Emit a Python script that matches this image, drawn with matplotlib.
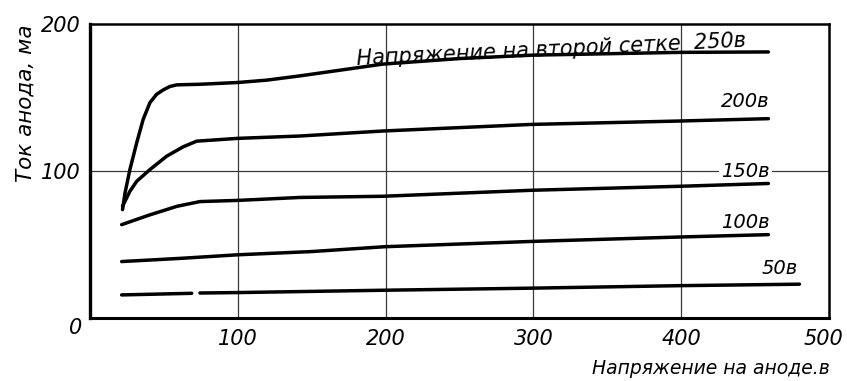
import matplotlib
matplotlib.use("Agg")
import matplotlib.pyplot as plt
from matplotlib.transforms import ScaledTranslation

plt.rcParams['font.family'] = ['DejaVu Sans']
plt.rcParams['font.style'] = 'italic'

# Anode voltage (V) / anode current (mA) for each screen-grid voltage
ua_250 = [22, 23.7, 27, 31.6, 36, 40.6, 45.1, 49.6, 54.1, 58.7, 74.4, 100, 119.5, 142, 198, 250, 299, 399, 459]
ia_250 = [73.7, 85.1, 101, 119.2, 135.2, 146.6, 152.2, 155.2, 157.5, 158.6, 159, 160.2, 161.8, 164.7, 172.7, 176.5, 178.8, 180.7, 181]

ua_200 = [22, 27, 31.6, 40.6, 51.9, 63.1, 72.2, 100, 142, 198, 299, 399, 459]
ia_200 = [76, 86.2, 93, 101, 110.1, 116.5, 120.3, 122.2, 123.8, 127.2, 131.7, 134, 135.6]

ua_150 = [21.4, 40, 58.9, 74.4, 100, 142, 198, 299, 399, 459]
ia_150 = [63.5, 70, 76, 79.2, 80, 82, 82.8, 86.9, 89.6, 91.5]

ua_100 = [21.4, 60, 100, 150, 199.6, 299, 399, 459]
ia_100 = [38.4, 40.5, 43, 45.2, 48.5, 52.1, 55.1, 56.7]

ua_50 = [21.4, 68.8, 74.4, 100, 199.6, 299, 399, 480]
ia_50 = [15.7, 16.8, 17, 17.3, 18.9, 20.3, 22, 23]

x_ticks = [100, 200, 300, 400, 500]
y_ticks = [100, 200]
x_label = "Напряжение на аноде.в"
y_label = "Ток анода, ма"
series_title = "Напряжение на второй сетке  250в"
lbl_200 = "200в"
lbl_150 = "150в"
lbl_100 = "100в"
lbl_50 = "50в"

fig = plt.figure(figsize=(8.47, 3.81), dpi=100)
ax = fig.add_axes([90 / 847, 1 - 318 / 381, (829 - 90) / 847, (318 - 24) / 381])
ax.set_xlim(0, 500)
ax.set_ylim(0, 200)

grid_kw = dict(color='#3a3a3a', lw=0.9, zorder=1)
for xv in x_ticks[:-1]:
    ax.axvline(xv, **grid_kw)
ax.axhline(100, **grid_kw)

line_kw = dict(color='black', lw=2.5, solid_capstyle='round', solid_joinstyle='round', zorder=3)
ax.plot(ua_250, ia_250, **line_kw)
ax.plot(ua_200, ia_200, **line_kw)
ax.plot(ua_150, ia_150, **line_kw)
ax.plot(ua_100, ia_100, **line_kw)
ax.plot(ua_50[:2], ia_50[:2], **line_kw)
ax.plot(ua_50[2:], ia_50[2:], **line_kw)

ax.text(312, 182.5, series_title, fontsize=15, rotation=2.7, rotation_mode='anchor',
        ha='center', va='center', zorder=4)
lfs = 14
ax.text(460, 147, lbl_200, fontsize=lfs, ha='right', va='center', zorder=4)
ax.text(460, 99.7, lbl_150, fontsize=lfs, ha='right', va='center', zorder=2,
        bbox=dict(boxstyle='square,pad=0.1', fc='white', ec='none'))
ax.text(460, 65.2, lbl_100, fontsize=lfs, ha='right', va='center', zorder=4)
ax.text(479, 33.4, lbl_50, fontsize=lfs, ha='right', va='center', zorder=4)

ax.set_xticks(x_ticks)
ax.set_xticklabels([str(v) for v in x_ticks], fontsize=15)
ax.set_yticks(y_ticks)
ax.set_yticklabels([str(v) for v in y_ticks], fontsize=15)
ax.tick_params(length=0, pad=7)
ax.tick_params(axis='x', pad=8)
xl = ax.get_xticklabels()
xl[-1].set_transform(xl[-1].get_transform() + ScaledTranslation(-6 / 100, 0, fig.dpi_scale_trans))
ax.text(-10, -7, "0", fontsize=15, ha='center', va='center', clip_on=False)

for side, lw in (('left', 2.4), ('bottom', 2.2), ('top', 1.8), ('right', 1.8)):
    ax.spines[side].set_linewidth(lw)
    ax.spines[side].set_color('black')

fig.text(26 / 847, 1 - 103 / 381, y_label, rotation=90, fontsize=15.5, ha='center', va='center')
fig.text(830 / 847, 1 - 369 / 381, x_label, fontsize=13.5, ha='right', va='center')

fig.savefig("out.png", dpi=100)
